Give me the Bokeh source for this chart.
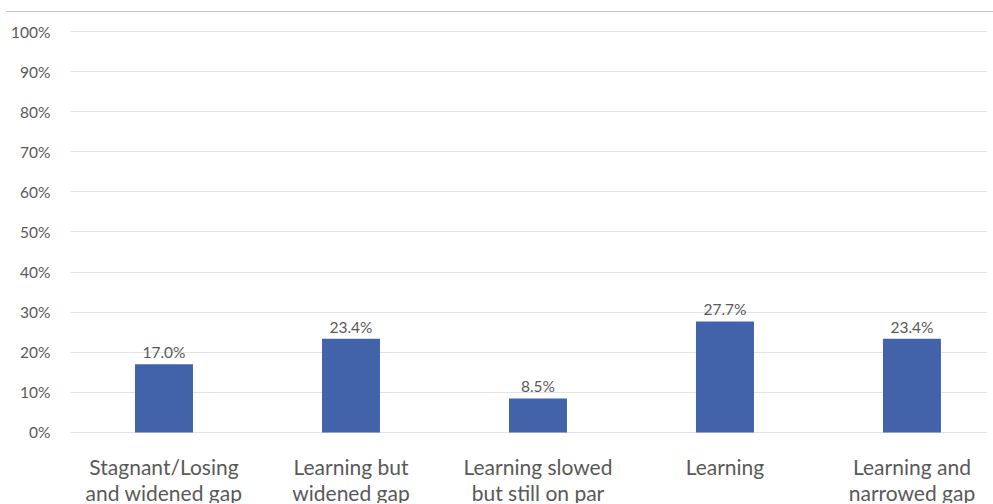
from bokeh.plotting import figure
from bokeh.models import ColumnDataSource, Range1d, FixedTicker, NumeralTickFormatter
from bokeh.core.properties import value
from bokeh.embed import file_html
from bokeh.resources import INLINE

categories = ["Stagnant/Losing\nand widened gap", "Learning but\nwidened gap",
              "Learning slowed\nbut still on par", "Learning", "Learning and\nnarrowed gap"]
shares = [0.170, 0.234, 0.085, 0.277, 0.234]
y_ticks = [0.0, 0.1, 0.2, 0.3, 0.4, 0.5, 0.6, 0.7, 0.8, 0.9, 1.0]

xs = list(range(len(categories)))
labels = [f"{v*100:.1f}%" for v in shares]
line1 = [c.split("\n")[0] for c in categories]
line2 = [c.split("\n")[1] if "\n" in c else "" for c in categories]
src = ColumnDataSource(dict(x=xs, top=shares, lab=labels, zero=[0.0] * len(xs), l1=line1, l2=line2))

# frame extends below zero so the category captions sit inside it
p = figure(width=987, height=492, output_backend="svg", toolbar_location=None,
           x_range=Range1d(-0.5, 4.404), y_range=Range1d(-0.1796, 1.0025),
           min_border_left=64, min_border_right=6, min_border_top=18, min_border_bottom=0)
p.margin = (11, 0, 0, 6)
p.styles = {"border-top": "1px solid #c4c4c4"}

p.vbar(x="x", top="top", width=0.31, bottom=0, source=src, fill_color="#4263A9", line_color=None)
p.text(x="x", y="top", text="lab", source=src, text_align="center", text_baseline="bottom",
       y_offset=-3, text_font=value("Lato"), text_font_size="15.5px", text_color="#595959")

for col, off in (("l1", 34), ("l2", 60)):
    p.text(x="x", y="zero", text=col, source=src, y_offset=off, text_align="center",
           text_baseline="middle", text_font=value("Lato"), text_font_size="21px",
           text_color="#595959")

p.xaxis.visible = False
p.xgrid.grid_line_color = None

p.yaxis.ticker = FixedTicker(ticks=y_ticks)
p.yaxis.formatter = NumeralTickFormatter(format="0%")
p.yaxis.major_label_text_font = "Lato"
p.yaxis.major_label_text_font_size = "15.5px"
p.yaxis.major_label_text_color = "#595959"
p.yaxis.axis_line_color = None
p.yaxis.major_tick_line_color = None
p.yaxis.minor_tick_line_color = None
p.yaxis.major_label_standoff = 14
p.ygrid.grid_line_color = "#e3e3e3"
p.ygrid.ticker = FixedTicker(ticks=y_ticks)
p.outline_line_color = None

open("out.html", "w").write(file_html(p, INLINE))
